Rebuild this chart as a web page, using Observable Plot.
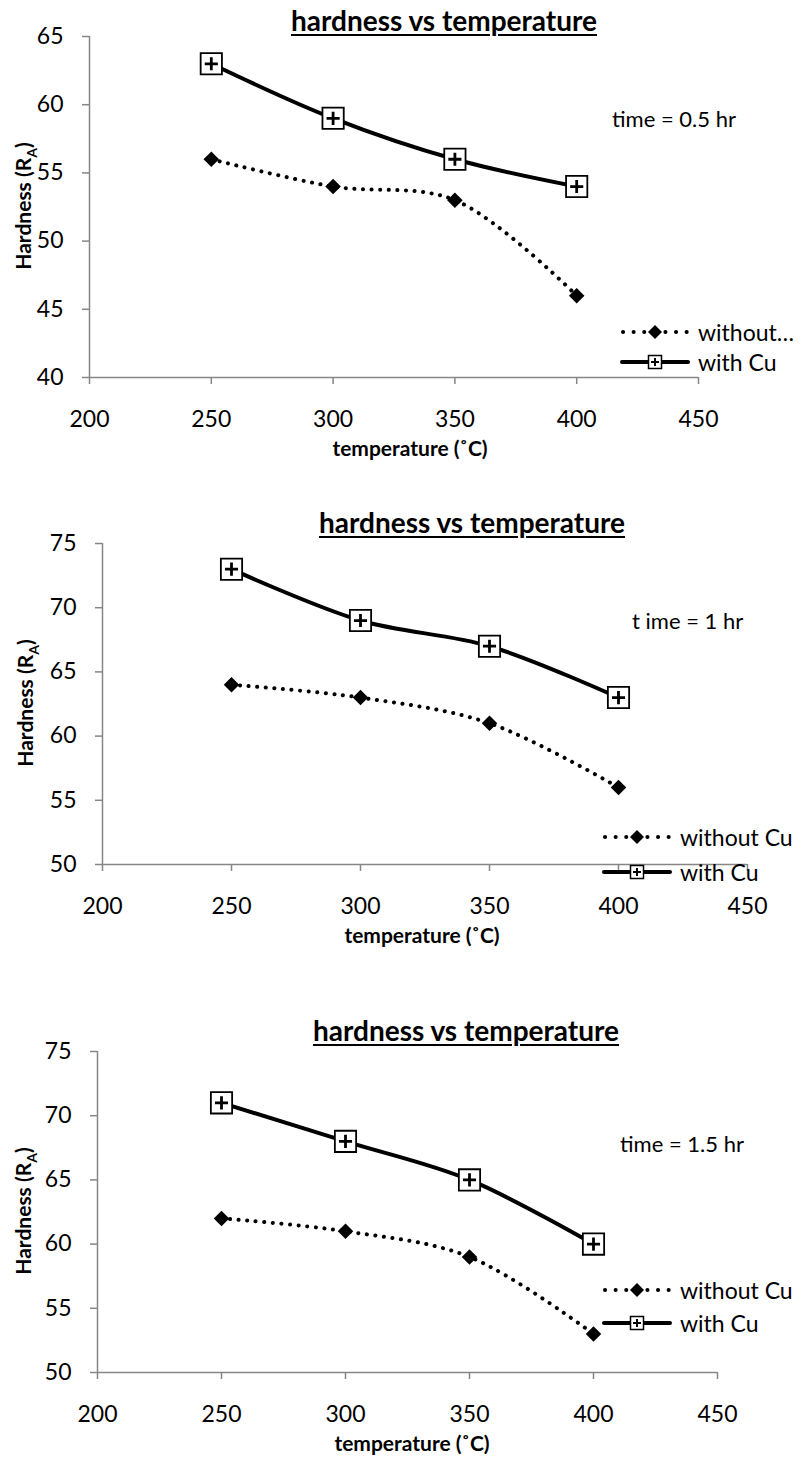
<!DOCTYPE html>
<html>
<head>
<meta charset="utf-8">
<script src="https://cdn.jsdelivr.net/npm/d3@7"></script>
<script src="https://cdn.jsdelivr.net/npm/@observablehq/plot@0.6"></script>
<style>
  html, body { margin: 0; padding: 0; background: #fff; }
  #page { position: relative; width: 805px; height: 1457px; font-family: Lato, "Open Sans", sans-serif; color: #000; overflow: hidden; }
  .chart { position: absolute; left: 0; }
  .title { position: absolute; font-weight: bold; font-size: 28px; text-decoration: underline; text-decoration-thickness: 2px; text-underline-offset: 3px; transform: translate(-50%, -50%); white-space: nowrap; }
  .xlabel { position: absolute; font-weight: bold; font-size: 21px; transform: translate(-50%, -50%); white-space: nowrap; }
  .ylabel { position: absolute; font-weight: bold; font-size: 21px; transform: translate(-50%, -50%) rotate(-90deg); white-space: nowrap; }
  .ylabel sub { font-size: 14px; }
  .note { position: absolute; font-size: 22px; white-space: nowrap; transform: translateY(-50%); }
  .legend { position: absolute; font-size: 23px; white-space: nowrap; }
  .legend .row { position: absolute; left: 0; display: flex; align-items: center; height: 30px; transform: translateY(-50%); }
  .legend svg { margin-right: 8px; }
</style>
</head>
<body>
<div id="page"></div>
<script>
// ---------- data ----------
const temperatures = [250, 300, 350, 400];
const withCu05 = [63, 59, 56, 54];
const withoutCu05 = [56, 54, 53, 46];
const withCu1 = [73, 69, 67, 63];
const withoutCu1 = [64, 63, 61, 56];
const withCu15 = [71, 68, 65, 60];
const withoutCu15 = [62, 61, 59, 53];
const xTicks = [200, 250, 300, 350, 400, 450];
const yTicks05 = [40, 45, 50, 55, 60, 65];
const yTicks1 = [50, 55, 60, 65, 70, 75];
const yTicks15 = [50, 55, 60, 65, 70, 75];
const timeNotes = ["time = 0.5 hr", "t ime = 1 hr", "time = 1.5 hr"];
const withoutNames = ["without…", "without Cu", "without Cu"];
const withName = "with Cu";
const chartTitle = "hardness vs temperature";
const xTitle = "temperature (˚C)";

// ---------- layout (page pixels) ----------
const layouts = [
  {top: 0,   height: 480, mt: 36, mb: 103, ml: 89,  mr: 107,
   title: [444, 20], xl: [410, 447], yl: [25, 206], note: [612, 118],
   legend: {x: 620, rows: [332, 362]}},
  {top: 480, height: 510, mt: 63, mb: 126, ml: 102, mr: 58,
   title: [472, 522], xl: [422, 934], yl: [27, 703], note: [632, 620],
   legend: {x: 602, rows: [837, 872]}},
  {top: 990, height: 467, mt: 61, mb: 85,  ml: 97,  mr: 88,
   title: [466, 1030], xl: [412, 1442], yl: [25, 1211], note: [620, 1143],
   legend: {x: 602, rows: [1290, 1323]}}
];
const charts = [
  {withCu: withCu05, withoutCu: withoutCu05, yTicks: yTicks05},
  {withCu: withCu1, withoutCu: withoutCu1, yTicks: yTicks1},
  {withCu: withCu15, withoutCu: withoutCu15, yTicks: yTicks15}
];

const gray = "#868686";
const page = document.getElementById("page");

function legendSample(kind) {
  const ns = "http://www.w3.org/2000/svg";
  const s = document.createElementNS(ns, "svg");
  s.setAttribute("width", 70); s.setAttribute("height", 24);
  if (kind === "without") {
    s.innerHTML = `<line x1="3" y1="12" x2="68" y2="12" stroke="#000" stroke-width="4" stroke-linecap="round" stroke-dasharray="0.1,10.5"/>
      <path d="M35,5 L42,12 L35,19 L28,12Z" fill="#000"/>`;
  } else {
    s.innerHTML = `<line x1="2" y1="12" x2="68" y2="12" stroke="#000" stroke-width="4" stroke-linecap="round"/>
      <rect x="28.5" y="5.5" width="13" height="13" fill="#fff" stroke="#000" stroke-width="1.5"/>
      <path d="M35,8 V16 M31,12 H39" stroke="#000" stroke-width="2"/>`;
  }
  return s;
}

charts.forEach((c, i) => {
  const L = layouts[i];
  const rows = [];
  temperatures.forEach((t, k) => {
    rows.push({t, h: c.withoutCu[k], s: "without"});
    rows.push({t, h: c.withCu[k], s: "with"});
  });
  const without = rows.filter(d => d.s === "without");
  const withc = rows.filter(d => d.s === "with");
  const yMin = d3.min(c.yTicks), yMax = d3.max(c.yTicks);

  const plot = Plot.plot({
    width: 805,
    height: L.height,
    marginTop: L.mt, marginBottom: L.mb, marginLeft: L.ml, marginRight: L.mr,
    style: {fontFamily: "Lato, 'Open Sans', sans-serif", fontSize: "23px", color: "#000", background: "transparent", overflow: "visible"},
    x: {domain: [200, 450]},
    y: {domain: [yMin, yMax]},
    marks: [
      Plot.ruleX([200], {stroke: gray, strokeWidth: 1.5}),
      Plot.ruleY([yMin], {stroke: gray, strokeWidth: 1.5}),
      Plot.axisX({ticks: xTicks, tickSize: 7, tickPadding: 26, stroke: gray, strokeWidth: 1.5, fill: "#000", label: null, tickFormat: d => d}),
      Plot.axisY({ticks: c.yTicks, tickSize: 7, tickPadding: 19, stroke: gray, strokeWidth: 1.5, fill: "#000", label: null, tickFormat: d => d}),
      Plot.line(without, {x: "t", y: "h", curve: "catmull-rom", stroke: "#000", strokeWidth: 4, strokeLinecap: "round", strokeDasharray: "0.1,8.5"}),
      Plot.line(withc, {x: "t", y: "h", curve: "catmull-rom", stroke: "#000", strokeWidth: 4}),
      Plot.dot(without, {x: "t", y: "h", symbol: "diamond2", r: 7, fill: "#000", stroke: null}),
      Plot.dot(withc, {x: "t", y: "h", symbol: "square", r: 12, fill: "#fff", stroke: "#000", strokeWidth: 1.8}),
      Plot.dot(withc, {x: "t", y: "h", symbol: "plus", r: 4.3, stroke: "#000", strokeWidth: 2.8})
    ]
  });
  const wrap = document.createElement("div");
  wrap.className = "chart";
  wrap.style.top = L.top + "px";
  wrap.appendChild(plot);
  page.appendChild(wrap);

  const title = document.createElement("div");
  title.className = "title";
  title.style.left = L.title[0] + "px"; title.style.top = L.title[1] + "px";
  title.textContent = chartTitle;
  page.appendChild(title);

  const xl = document.createElement("div");
  xl.className = "xlabel";
  xl.style.left = L.xl[0] + "px"; xl.style.top = L.xl[1] + "px";
  xl.textContent = xTitle;
  page.appendChild(xl);

  const yl = document.createElement("div");
  yl.className = "ylabel";
  yl.style.left = L.yl[0] + "px"; yl.style.top = L.yl[1] + "px";
  yl.innerHTML = "Hardness (R<sub>A</sub>)";
  page.appendChild(yl);

  const note = document.createElement("div");
  note.className = "note";
  note.style.left = L.note[0] + "px"; note.style.top = L.note[1] + "px";
  note.textContent = timeNotes[i];
  page.appendChild(note);

  const lg = document.createElement("div");
  lg.className = "legend";
  lg.style.left = L.legend.x + "px"; lg.style.top = "0px";
  [["without", withoutNames[i]], ["with", withName]].forEach(([k, name], j) => {
    const r = document.createElement("div");
    r.className = "row";
    r.style.top = L.legend.rows[j] + "px";
    r.appendChild(legendSample(k));
    const sp = document.createElement("span");
    sp.textContent = name;
    r.appendChild(sp);
    lg.appendChild(r);
  });
  page.appendChild(lg);
});
</script>
</body>
</html>
